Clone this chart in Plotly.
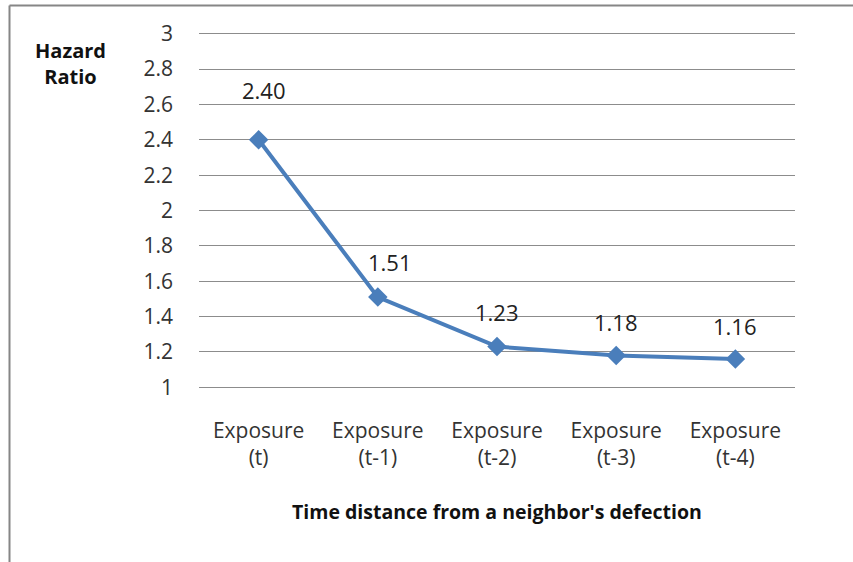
import plotly.graph_objects as go

# Hazard ratio by time distance from a neighbor's defection
categories = ["Exposure<br>(t)", "Exposure<br>(t-1)", "Exposure<br>(t-2)",
              "Exposure<br>(t-3)", "Exposure<br>(t-4)"]
hazard_ratio = [2.40, 1.51, 1.23, 1.18, 1.16]
y_ticks = [1, 1.2, 1.4, 1.6, 1.8, 2, 2.2, 2.4, 2.6, 2.8, 3]

# per-label placement (pixels) for the value labels
label_xshift = [5, 12, 0, 0, 0]
label_yshift = [50, 35, 35, 33, 33]

W, H = 853, 562
L, R, T, B = 199, 58, 32, 173

LINE_BLUE = "#4A7EBB"
GRID = "#8C8C8C"
FONT = "Open Sans, Liberation Sans, sans-serif"

fig = go.Figure()
fig.add_trace(go.Scatter(
    x=categories, y=hazard_ratio, mode="lines+markers",
    line=dict(color=LINE_BLUE, width=4),
    marker=dict(symbol="diamond", size=15, color=LINE_BLUE),
    hoverinfo="skip", showlegend=False,
))

for c, v, dx, dy in zip(categories, hazard_ratio, label_xshift, label_yshift):
    fig.add_annotation(x=c, y=v, text=f"{v:.2f}", showarrow=False,
                       xshift=dx, yshift=dy,
                       font=dict(family=FONT, size=22, color="#222"))

# axis title and the outer frame (top and left edges)
pw, ph = W - L - R, H - T - B
def px(x):
    return (x - L) / pw
def py(y):
    return (H - B - y) / ph

fig.add_annotation(x=px(70), y=py(63), xref="paper", yref="paper",
                   xanchor="center", yanchor="middle",
                   text="<b>Hazard<br>Ratio</b>", showarrow=False,
                   font=dict(family=FONT, size=20, color="#111"))
fig.add_annotation(x=px(497), y=py(511), xref="paper", yref="paper",
                   xanchor="center", yanchor="middle",
                   text="<b>Time distance from a neighbor's defection</b>",
                   showarrow=False,
                   font=dict(family=FONT, size=19.5, color="#111"))

frame = dict(color="#868686", width=2)
fig.add_shape(type="line", xref="paper", yref="paper",
              x0=px(9.5), x1=px(W + 5), y0=py(5.5), y1=py(5.5), line=frame)
fig.add_shape(type="line", xref="paper", yref="paper",
              x0=px(9.5), x1=px(9.5), y0=py(5.5), y1=py(H + 5), line=frame)

fig.update_xaxes(type="category", range=[-0.5, 4.5], showgrid=False,
                 showline=False, zeroline=False, ticks="",
                 tickfont=dict(family=FONT, size=21, color="#333"),
                 ticklabelstandoff=27)
# small padding so the gridlines at 1 and 3 are kept
fig.update_yaxes(range=[0.99, 3.01], tickvals=y_ticks, showgrid=True,
                 gridcolor=GRID, gridwidth=1, zeroline=False, showline=False,
                 ticks="", tickfont=dict(family=FONT, size=21, color="#333"),
                 ticklabelstandoff=25)

fig.update_layout(width=W, height=H, margin=dict(l=L, r=R, t=T, b=B),
                  plot_bgcolor="white", paper_bgcolor="white")

fig.write_html("out.html")
